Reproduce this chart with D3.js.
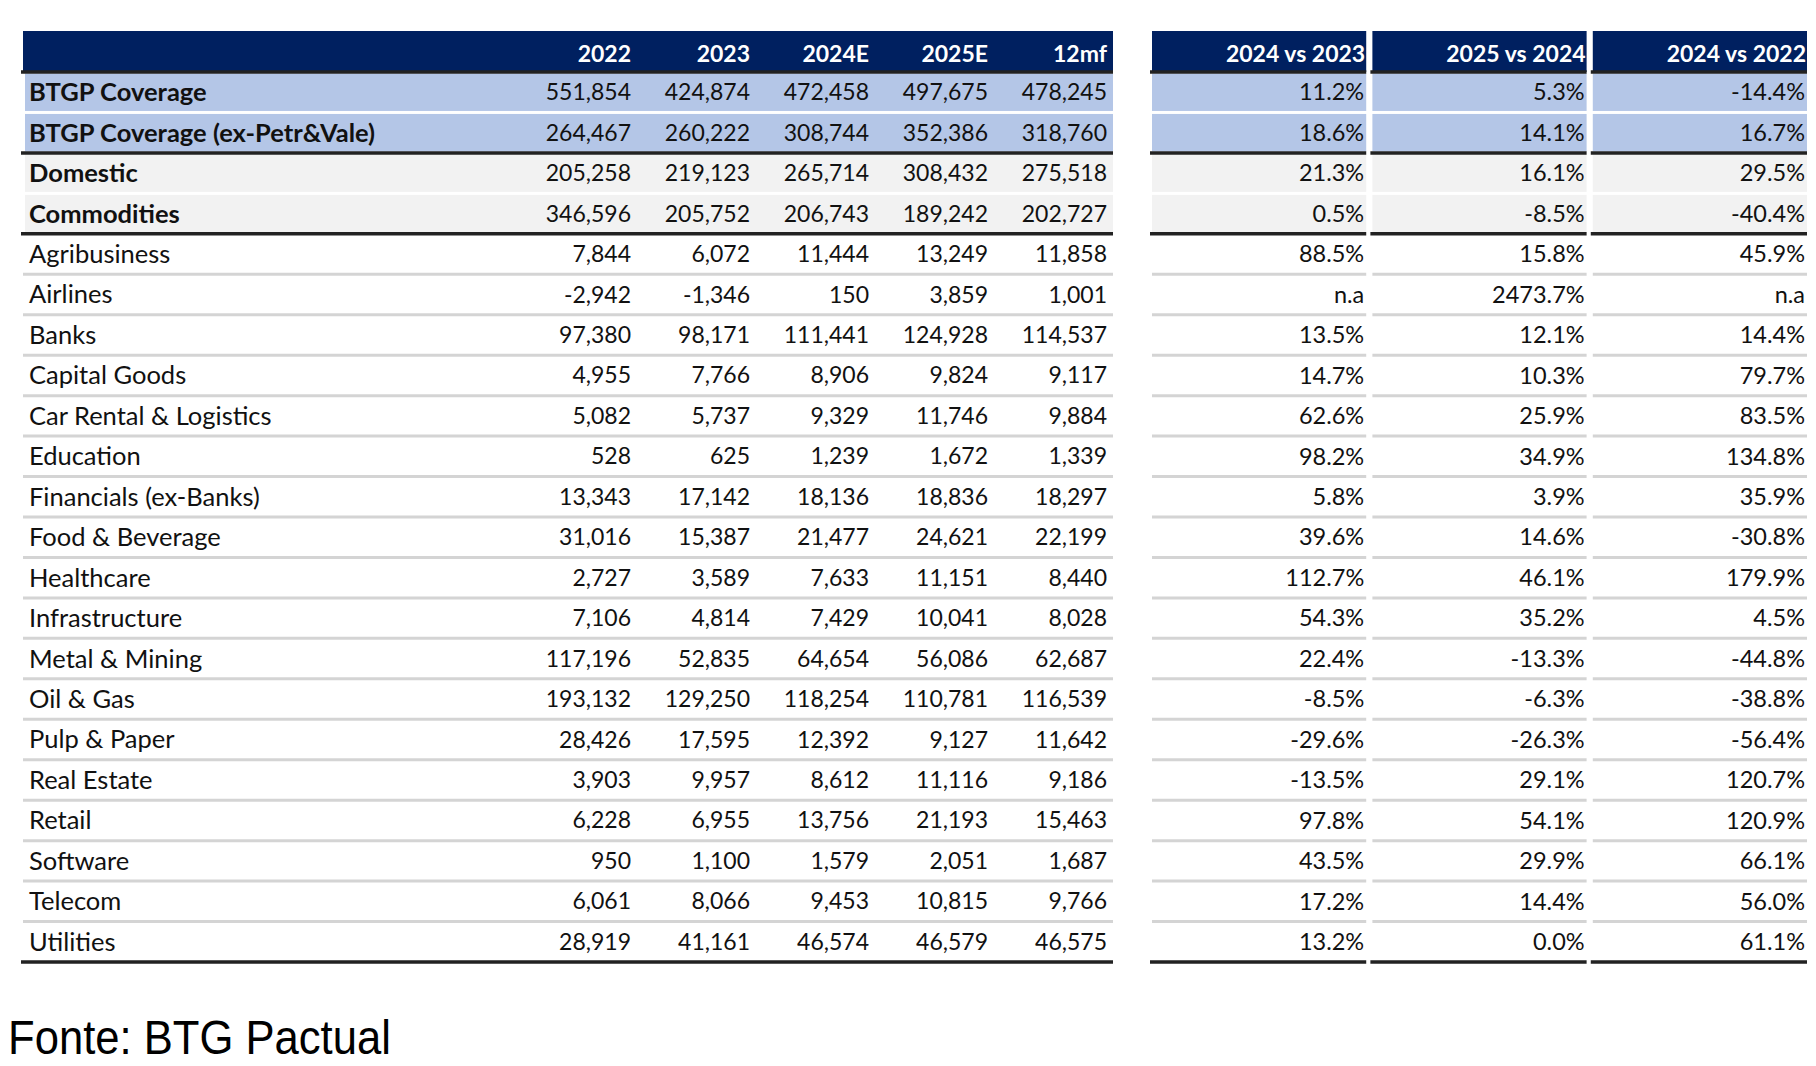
<!DOCTYPE html>
<html>
<head>
<meta charset="utf-8">
<script src="https://cdn.jsdelivr.net/npm/d3@7"></script>
<style>
  html, body { margin: 0; padding: 0; background: #fff; }
  svg { display: block; }
</style>
</head>
<body>
<div id="chart"></div>
<script>
// sectors / rows
const labels = [
  'BTGP Coverage', 'BTGP Coverage (ex-Petr&Vale)', 'Domestic', 'Commodities',
  'Agribusiness', 'Airlines', 'Banks', 'Capital Goods', 'Car Rental & Logistics',
  'Education', 'Financials (ex-Banks)', 'Food & Beverage', 'Healthcare',
  'Infrastructure', 'Metal & Mining', 'Oil & Gas', 'Pulp & Paper', 'Real Estate',
  'Retail', 'Software', 'Telecom', 'Utilities'
];

const yearCols = ['2022', '2023', '2024E', '2025E', '12mf'];
const v2022 = [551854, 264467, 205258, 346596, 7844, -2942, 97380, 4955, 5082, 528, 13343, 31016, 2727, 7106, 117196, 193132, 28426, 3903, 6228, 950, 6061, 28919];
const v2023 = [424874, 260222, 219123, 205752, 6072, -1346, 98171, 7766, 5737, 625, 17142, 15387, 3589, 4814, 52835, 129250, 17595, 9957, 6955, 1100, 8066, 41161];
const v2024 = [472458, 308744, 265714, 206743, 11444, 150, 111441, 8906, 9329, 1239, 18136, 21477, 7633, 7429, 64654, 118254, 12392, 8612, 13756, 1579, 9453, 46574];
const v2025 = [497675, 352386, 308432, 189242, 13249, 3859, 124928, 9824, 11746, 1672, 18836, 24621, 11151, 10041, 56086, 110781, 9127, 11116, 21193, 2051, 10815, 46579];
const v12mf = [478245, 318760, 275518, 202727, 11858, 1001, 114537, 9117, 9884, 1339, 18297, 22199, 8440, 8028, 62687, 116539, 11642, 9186, 15463, 1687, 9766, 46575];

const pctCols = ['2024 vs 2023', '2025 vs 2024', '2024 vs 2022'];
const g24v23 = [11.2, 18.6, 21.3, 0.5, 88.5, null, 13.5, 14.7, 62.6, 98.2, 5.8, 39.6, 112.7, 54.3, 22.4, -8.5, -29.6, -13.5, 97.8, 43.5, 17.2, 13.2];
const g25v24 = [5.3, 14.1, 16.1, -8.5, 15.8, 2473.7, 12.1, 10.3, 25.9, 34.9, 3.9, 14.6, 46.1, 35.2, -13.3, -6.3, -26.3, 29.1, 54.1, 29.9, 14.4, 0.0];
const g24v22 = [-14.4, 16.7, 29.5, -40.4, 45.9, null, 14.4, 79.7, 83.5, 134.8, 35.9, -30.8, 179.9, 4.5, -44.8, -38.8, -56.4, 120.7, 120.9, 66.1, 56.0, 61.1];

const source = 'Fonte: BTG Pactual';

const yearValues = [v2022, v2023, v2024, v2025, v12mf];
const pctValues = [g24v23, g25v24, g24v22];

const width = 1816, height = 1066;
const navy = '#002060', blue = '#b4c6e7', grey = '#f2f2f2';
const font = 'Lato, "Open Sans", sans-serif';

const loc = d3.formatLocale({ decimal: '.', thousands: ',', grouping: [3], currency: ['', ''], minus: '-' });
const fmtNum = loc.format(',');
const fmtPct = v => v == null ? 'n.a' : loc.format('.1f')(v) + '%';

const svg = d3.select('#chart').append('svg')
  .attr('width', width)
  .attr('height', height);

const headTop = 31, headBottom = 72;
const y = d3.scaleBand().domain(d3.range(labels.length)).range([headBottom, 962]);

const leftX0 = 23, leftX1 = 1113;
const colRight = d3.scaleLinear().domain([0, yearCols.length - 1]).range([631, 1107]);
const pctX = d3.scaleBand().domain(d3.range(pctCols.length)).range([1152, 1807]).paddingInner(0.028);

const fillFor = i => i < 2 ? blue : (i < 4 ? grey : null);
const boldRow = i => i < 4;

// ---- left table ----
const left = svg.append('g');

left.append('rect')
  .attr('x', leftX0).attr('y', headTop)
  .attr('width', leftX1 - leftX0).attr('height', headBottom - headTop)
  .attr('fill', navy);

left.selectAll('rect.row')
  .data(labels.map((l, i) => i).filter(i => fillFor(i)))
  .join('rect')
  .attr('class', 'row')
  .attr('x', leftX0 + 2).attr('y', i => y(i) + 1.5)
  .attr('width', leftX1 - leftX0 - 2).attr('height', y.bandwidth() - 3)
  .attr('fill', fillFor);

left.selectAll('text.head')
  .data(yearCols)
  .join('text')
  .attr('class', 'head')
  .attr('x', (d, i) => colRight(i))
  .attr('y', (headTop + headBottom) / 2 + 2)
  .attr('dy', '0.35em')
  .attr('text-anchor', 'end')
  .attr('fill', '#fff')
  .attr('font-family', font).attr('font-size', 23).attr('font-weight', 'bold')
  .text(d => d);

left.selectAll('text.label')
  .data(labels)
  .join('text')
  .attr('class', 'label')
  .attr('x', 29)
  .attr('y', (d, i) => y(i) + y.bandwidth() / 2)
  .attr('dy', '0.35em')
  .attr('fill', '#111')
  .attr('font-family', font).attr('font-size', 25.5)
  .attr('font-weight', (d, i) => boldRow(i) ? 'bold' : 'normal')
  .text(d => d);

yearValues.forEach((vals, c) => {
  left.selectAll('text.c' + c)
    .data(vals)
    .join('text')
    .attr('class', 'c' + c)
    .attr('x', colRight(c))
    .attr('y', (d, i) => y(i) + y.bandwidth() / 2)
    .attr('dy', '0.35em')
    .attr('text-anchor', 'end')
    .attr('fill', '#111')
    .attr('font-family', font).attr('font-size', 23)
    .text(d => fmtNum(d));
});

// ---- right table ----
const right = svg.append('g');

right.selectAll('rect.head')
  .data(pctCols)
  .join('rect')
  .attr('class', 'head')
  .attr('x', (d, i) => pctX(i)).attr('y', headTop)
  .attr('width', pctX.bandwidth()).attr('height', headBottom - headTop)
  .attr('fill', navy);

pctCols.forEach((col, c) => {
  right.selectAll('rect.f' + c)
    .data(labels.map((l, i) => i).filter(i => fillFor(i)))
    .join('rect')
    .attr('class', 'f' + c)
    .attr('x', pctX(c)).attr('y', i => y(i) + 1.5)
    .attr('width', pctX.bandwidth()).attr('height', y.bandwidth() - 3)
    .attr('fill', fillFor);
});

right.selectAll('text.head')
  .data(pctCols)
  .join('text')
  .attr('class', 'head')
  .attr('x', (d, i) => pctX(i) + pctX.bandwidth() - 1)
  .attr('y', (headTop + headBottom) / 2 + 2)
  .attr('dy', '0.35em')
  .attr('text-anchor', 'end')
  .attr('fill', '#fff')
  .attr('font-family', font).attr('font-size', 23).attr('font-weight', 'bold')
  .text(d => d);

pctValues.forEach((vals, c) => {
  right.selectAll('text.p' + c)
    .data(vals)
    .join('text')
    .attr('class', 'p' + c)
    .attr('x', pctX(c) + pctX.bandwidth() - 2)
    .attr('y', (d, i) => y(i) + y.bandwidth() / 2)
    .attr('dy', '0.35em')
    .attr('text-anchor', 'end')
    .attr('fill', '#111')
    .attr('font-family', font).attr('font-size', 23.5)
    .text(d => fmtPct(d));
});

// ---- rules ----
const spans = [[leftX0, leftX1]].concat(d3.range(pctCols.length).map(c => [pctX(c), pctX(c) + pctX.bandwidth()]));
const thickAfter = new Set([1, 3, labels.length - 1]);

spans.forEach(([x0, x1]) => {
  // thin separators between plain rows
  svg.append('g').selectAll('line')
    .data(d3.range(4, labels.length - 1))
    .join('line')
    .attr('x1', x0).attr('x2', x1)
    .attr('y1', i => y(i) + y.bandwidth()).attr('y2', i => y(i) + y.bandwidth())
    .attr('stroke', '#d4d4d4').attr('stroke-width', 3);

  // heavy rules
  svg.append('g').selectAll('line')
    .data([-1].concat(Array.from(thickAfter)))
    .join('line')
    .attr('x1', x0 - 2).attr('x2', x1)
    .attr('y1', i => i < 0 ? headBottom : y(i) + y.bandwidth())
    .attr('y2', i => i < 0 ? headBottom : y(i) + y.bandwidth())
    .attr('stroke', '#222').attr('stroke-width', 3.5);
});

// ---- source ----
svg.append('text')
  .attr('transform', 'translate(8,1054) scale(0.89,1)')
  .attr('font-family', '"Liberation Sans", Arial, sans-serif')
  .attr('font-size', 49)
  .attr('fill', '#000')
  .text(source);
</script>
</body>
</html>
